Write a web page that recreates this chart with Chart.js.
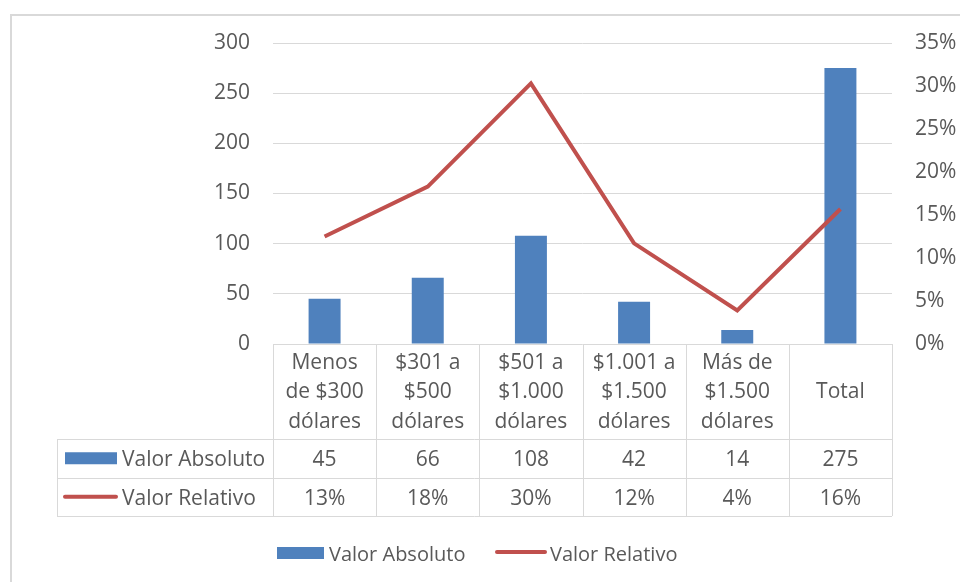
<!DOCTYPE html>
<html>
<head>
<meta charset="utf-8">
<script src="https://cdn.jsdelivr.net/npm/chart.js@4"></script>
<style>
  html, body { margin: 0; padding: 0; background: #fff; }
  canvas { display: block; }
</style>
</head>
<body>
<canvas id="chart" width="960" height="582"></canvas>
<script>
// Data
const categories = [
  ["Menos", "de $300", "dólares"],
  ["$301 a", "$500", "dólares"],
  ["$501 a", "$1.000", "dólares"],
  ["$1.001 a", "$1.500", "dólares"],
  ["Más de", "$1.500", "dólares"],
  ["Total"],
];
const valorAbsoluto = [45, 66, 108, 42, 14, 275];
const valorRelativo = [12.5, 18.3, 30.3, 11.7, 3.9, 15.7]; // %
const seriesNames = ["Valor Absoluto", "Valor Relativo"];

const BLUE = "#4f81bd";
const RED = "#c0504d";
const GRID = "#d9d9d9";
const TEXT = "#595959";
const FONT = "21px 'Open Sans'";
const LEGEND_FONT = "20px 'Open Sans'";
const TEXT_DY = 2; // Open Sans sits a bit high with middle baseline

// Table + legend + frame, drawn from the x scale positions
const tablePlugin = {
  id: "dataTable",
  beforeDraw(chart) {
    const ctx = chart.ctx;
    ctx.save();
    ctx.fillStyle = "#fff";
    ctx.fillRect(0, 0, chart.width, chart.height);
    ctx.strokeStyle = GRID;
    ctx.lineWidth = 2;
    ctx.beginPath();
    ctx.moveTo(11, chart.height);
    ctx.lineTo(11, 15);
    ctx.lineTo(chart.width, 15);
    ctx.stroke();
    ctx.restore();
  },
  afterDraw(chart) {
    const ctx = chart.ctx;
    const x = chart.scales.x;
    const area = chart.chartArea;
    const top = area.bottom;
    const row1 = top + 95, row2 = row1 + 38.5, row3 = row2 + 38.5;
    const tableLeft = 57;
    const colW = x.getPixelForValue(1) - x.getPixelForValue(0);

    ctx.save();
    ctx.strokeStyle = GRID;
    ctx.lineWidth = 1;
    ctx.beginPath();
    for (let i = 0; i <= categories.length; i++) {
      const ex = Math.round(x.getPixelForValue(i) - colW / 2) + 0.5;
      ctx.moveTo(ex, top);
      ctx.lineTo(ex, row3);
    }
    [row1, row2, row3].forEach(y => {
      ctx.moveTo(tableLeft, Math.round(y) + 0.5);
      ctx.lineTo(area.right, Math.round(y) + 0.5);
    });
    ctx.moveTo(tableLeft + 0.5, row1);
    ctx.lineTo(tableLeft + 0.5, row3);
    ctx.stroke();

    ctx.fillStyle = TEXT;
    ctx.font = FONT;
    ctx.textAlign = "center";
    ctx.textBaseline = "middle";
    categories.forEach((lines, i) => {
      const cx = x.getPixelForValue(i);
      const lh = 29.5;
      const mid = (top + row1) / 2 - 1 + TEXT_DY;
      lines.forEach((t, j) => {
        ctx.fillText(t, cx, mid + (j - (lines.length - 1) / 2) * lh);
      });
      ctx.fillText(String(valorAbsoluto[i]), cx, (row1 + row2) / 2 + TEXT_DY);
      ctx.fillText(Math.round(valorRelativo[i]) + "%", cx, (row2 + row3) / 2 + TEXT_DY);
    });

    // Row keys
    ctx.textAlign = "left";
    ctx.fillStyle = BLUE;
    ctx.fillRect(65, (row1 + row2) / 2 - 6, 52, 12);
    ctx.strokeStyle = RED;
    ctx.lineWidth = 4;
    ctx.lineCap = "round";
    ctx.beginPath();
    ctx.moveTo(65, (row2 + row3) / 2);
    ctx.lineTo(116, (row2 + row3) / 2);
    ctx.stroke();
    ctx.fillStyle = TEXT;
    ctx.fillText(seriesNames[0], 122, (row1 + row2) / 2 + TEXT_DY);
    ctx.fillText(seriesNames[1], 122, (row2 + row3) / 2 + TEXT_DY);

    // Legend
    const ly = 553;
    ctx.fillStyle = BLUE;
    ctx.fillRect(277, ly - 6, 47, 12);
    ctx.beginPath();
    ctx.moveTo(497, ly - 1);
    ctx.lineTo(545, ly - 1);
    ctx.stroke();
    ctx.fillStyle = TEXT;
    ctx.font = LEGEND_FONT;
    ctx.fillText(seriesNames[0], 329, ly + TEXT_DY);
    ctx.fillText(seriesNames[1], 550, ly + TEXT_DY);
    ctx.restore();
  },
};

new Chart(document.getElementById("chart"), {
  data: {
    labels: categories,
    datasets: [
      {
        type: "line",
        label: seriesNames[1],
        data: valorRelativo,
        yAxisID: "y1",
        borderColor: RED,
        borderWidth: 4,
        pointRadius: 0,
        tension: 0,
        order: 0,
      },
      {
        type: "bar",
        label: seriesNames[0],
        data: valorAbsoluto,
        yAxisID: "y",
        backgroundColor: BLUE,
        barPercentage: 0.31,
        categoryPercentage: 1,
        order: 1,
      },
    ],
  },
  plugins: [tablePlugin],
  options: {
    responsive: false,
    animation: false,
    devicePixelRatio: 1,
    layout: { padding: { left: 0, right: 0, top: 43, bottom: 238 } },
    plugins: { legend: { display: false }, tooltip: { enabled: false } },
    scales: {
      x: { display: false, offset: true },
      y: {
        position: "left",
        min: 0, max: 300,
        ticks: { stepSize: 50, color: TEXT, font: { family: "Open Sans", size: 21 }, padding: 23 },
        grid: { color: GRID, lineWidth: 1, drawTicks: false },
        border: { display: false },
        afterFit(scale) { scale.width = 273; },
      },
      y1: {
        position: "right",
        min: 0, max: 35,
        ticks: { stepSize: 5, color: TEXT, font: { family: "Open Sans", size: 21 }, padding: 23,
                 callback: v => v + "%" },
        grid: { display: false, drawTicks: false },
        border: { display: false },
        afterFit(scale) { scale.width = 68; },
      },
    },
  },
});
</script>
</body>
</html>
